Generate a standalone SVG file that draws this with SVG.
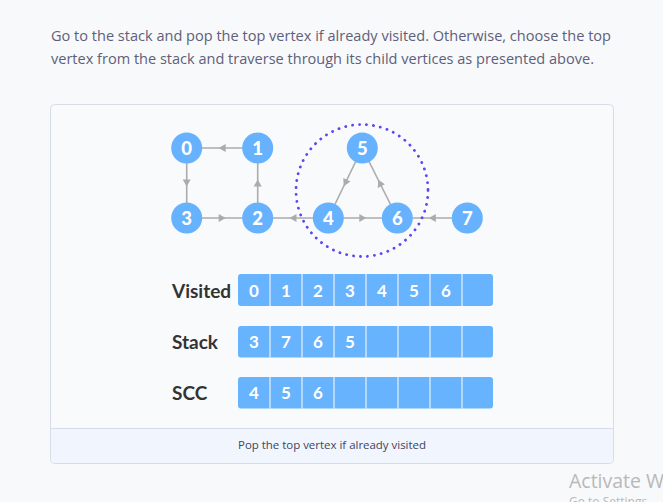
<svg xmlns="http://www.w3.org/2000/svg" width="663" height="502" viewBox="0 0 663 502">
<style>
.bg{fill:#f8f9fb}
.para{font-family:"Open Sans","Liberation Sans",sans-serif;font-size:14.5px;fill:#5e5f7a}
.node circle{fill:#66b2fe}
.node text{font-family:Lato,"Liberation Sans",sans-serif;font-weight:900;font-size:18.5px;fill:#fff;text-anchor:middle}
.edge{fill:none;stroke:#ababab;stroke-width:1.6;marker-mid:url(#ah)}
.lbl{font-family:Lato,"Liberation Sans",sans-serif;font-weight:bold;font-size:19px;fill:#333}
.row{fill:#68b3fe}
.div{stroke:#fff;stroke-width:1}
.cell{font-family:Lato,"Liberation Sans",sans-serif;font-weight:bold;font-size:17px;fill:#fff;text-anchor:middle}
.cap{font-family:"Open Sans","Liberation Sans",sans-serif;font-size:11px;fill:#3d4460;text-anchor:middle}
.wm{font-family:"Open Sans","Liberation Sans",sans-serif;fill:#b8b8b8}
</style>
<defs>
<marker id="ah" markerUnits="userSpaceOnUse" markerWidth="10" markerHeight="10" viewBox="-5 -5 10 10" refX="0" refY="0" orient="auto">
<path d="M-3.5,-4 L3.5,0 L-3.5,4 Z" fill="#ababab"/>
</marker>
</defs>
<rect class="bg" x="0" y="0" width="663" height="502"/>
<text class="para" x="51" y="41" textLength="560" lengthAdjust="spacingAndGlyphs">Go to the stack and pop the top vertex if already visited. Otherwise, choose the top</text>
<text class="para" x="51" y="64" textLength="543" lengthAdjust="spacingAndGlyphs">vertex from the stack and traverse through its child vertices as presented above.</text>
<g id="panel">
<rect x="50.5" y="104.5" width="563" height="359" rx="4" fill="#f9fafc" stroke="#d6dce8"/>
<path d="M51,428.5 H613 V459.5 a3.5,3.5 0 0 1 -3.5,3.5 H54.5 a3.5,3.5 0 0 1 -3.5,-3.5 Z" fill="#f1f5fd"/>
<line x1="51" y1="428.5" x2="613" y2="428.5" stroke="#d6dce8"/>
<text class="cap" x="332" y="449" textLength="188" lengthAdjust="spacingAndGlyphs">Pop the top vertex if already visited</text>
</g>
<g id="connectors">
<path class="edge" d="M257.7,148 L222.2,148 L186.7,148"/>
<path class="edge" d="M186.7,148 L186.7,183 L186.7,218"/>
<path class="edge" d="M186.7,218 L222.2,218 L257.7,218"/>
<path class="edge" d="M257.7,218 L257.7,183 L257.7,148"/>
<path class="edge" d="M328.3,218 L293,218 L257.7,218"/>
<path class="edge" d="M328.3,218 L362.8,218 L397.3,218"/>
<path class="edge" d="M362.3,148 L345.3,183 L328.3,218"/>
<path class="edge" d="M397.3,218 L379.8,183 L362.3,148"/>
<path class="edge" d="M467.3,218 L432.3,218 L397.3,218"/>
</g>
<g id="n0" class="node"><circle cx="186.7" cy="148" r="15.5"/><text x="186.7" y="154.5">0</text></g>
<g id="n1" class="node"><circle cx="257.7" cy="148" r="15.5"/><text x="257.7" y="154.5">1</text></g>
<g id="n2" class="node"><circle cx="257.7" cy="218" r="15.5"/><text x="257.7" y="224.5">2</text></g>
<g id="n3" class="node"><circle cx="186.7" cy="218" r="15.5"/><text x="186.7" y="224.5">3</text></g>
<g id="n4" class="node"><circle cx="328.3" cy="218" r="15.5"/><text x="328.3" y="224.5">4</text></g>
<g id="n5" class="node"><circle cx="362.3" cy="148" r="15.5"/><text x="362.3" y="154.5">5</text></g>
<g id="n6" class="node"><circle cx="397.3" cy="218" r="15.5"/><text x="397.3" y="224.5">6</text></g>
<g id="n7" class="node"><circle cx="467.3" cy="218" r="15.5"/><text x="467.3" y="224.5">7</text></g>
<g id="scc-circle"><circle cx="362" cy="190.5" r="66" fill="none" stroke="#5a48f0" stroke-width="2.8" stroke-dasharray="0.1 6.9" stroke-linecap="round"/></g>
<g id="visited">
<text class="lbl" x="172" y="297.5">Visited</text>
<rect class="row" x="238" y="274" width="255" height="32" rx="3"/>
<path class="div" d="M270,274V306M302,274V306M334,274V306M366,274V306M398,274V306M430,274V306M462,274V306"/>
<text class="cell" x="254" y="296.5">0</text><text class="cell" x="286" y="296.5">1</text><text class="cell" x="318" y="296.5">2</text><text class="cell" x="350" y="296.5">3</text><text class="cell" x="382" y="296.5">4</text><text class="cell" x="414" y="296.5">5</text><text class="cell" x="446" y="296.5">6</text>
</g>
<g id="stack">
<text class="lbl" x="172" y="348.5">Stack</text>
<rect class="row" x="238" y="326" width="255" height="31.5" rx="3"/>
<path class="div" d="M270,326V357.5M302,326V357.5M334,326V357.5M366,326V357.5M398,326V357.5M430,326V357.5M462,326V357.5"/>
<text class="cell" x="254" y="348">3</text><text class="cell" x="286" y="348">7</text><text class="cell" x="318" y="348">6</text><text class="cell" x="350" y="348">5</text>
</g>
<g id="scc">
<text class="lbl" x="172" y="399.5">SCC</text>
<rect class="row" x="238" y="377" width="255" height="31.5" rx="3"/>
<path class="div" d="M270,377V408.5M302,377V408.5M334,377V408.5M366,377V408.5M398,377V408.5M430,377V408.5M462,377V408.5"/>
<text class="cell" x="254" y="399">4</text><text class="cell" x="286" y="399">5</text><text class="cell" x="318" y="399">6</text>
</g>
<text class="wm" x="569" y="488" font-size="19.5">Activate W</text>
<text class="wm" x="569" y="506" font-size="12">Go to Settings</text>
</svg>
